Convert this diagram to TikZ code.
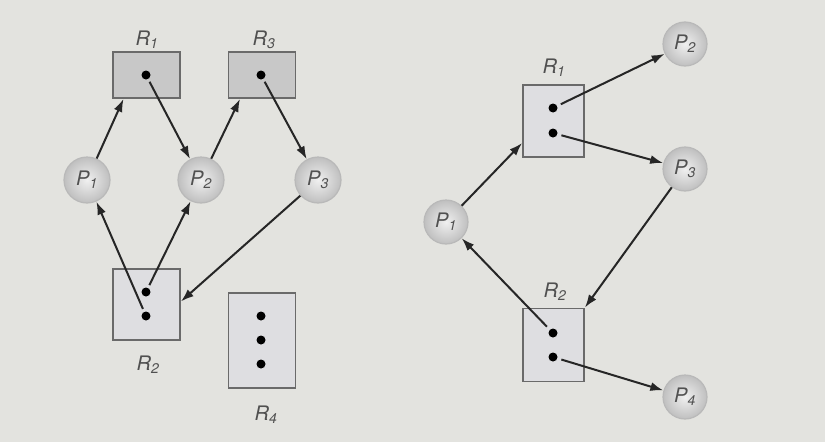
\documentclass[tikz,border=0pt]{standalone}
\usepackage{fontspec}
\setmainfont{TeX Gyre Heros}
\usetikzlibrary{arrows.meta}
\definecolor{bg}{HTML}{E3E3DF}
\definecolor{boxdark}{HTML}{C8C8C8}
\definecolor{boxlight}{HTML}{DEDEE1}
\definecolor{edge}{HTML}{6A6A6A}
\definecolor{txt}{HTML}{505050}
\tikzset{
  proc/.style={circle, minimum size=46pt, inner sep=0pt, draw=gray!55, line width=1.2pt,
    inner color=gray!12, outer color=gray!50, font=\fontsize{20}{24}\selectfont\itshape, text=txt},
  resdark/.style={rectangle, draw=edge, line width=1.8pt, fill=boxdark, inner sep=0pt},
  reslight/.style={rectangle, draw=edge, line width=1.8pt, fill=boxlight, inner sep=0pt},
  dotnode/.style={circle, fill=black, minimum size=9pt, inner sep=0pt},
  lbl/.style={font=\fontsize{20}{24}\selectfont\itshape, text=txt},
  arr/.style={-{Latex[length=13pt,width=9pt]}, line width=2pt, black!85},
}
\begin{document}
\begin{tikzpicture}[x=1pt,y=-1pt]
\fill[bg] (0,0) rectangle (825,442);
\useasboundingbox (0,0) rectangle (825,442);
% ---------- left graph ----------
\node[resdark, minimum width=67pt, minimum height=46pt] (LR1) at (146.5,75) {};
\node[resdark, minimum width=67pt, minimum height=46pt] (LR3) at (262,75) {};
\node[reslight, minimum width=67pt, minimum height=71pt] (LR2) at (146.5,304.5) {};
\node[reslight, minimum width=67pt, minimum height=95pt] (LR4) at (262,340.5) {};
\node[lbl] (LR1l) at (147,40) {R$_{\mathit 1}$};
\node[lbl] (LR3l) at (264,40) {R$_{\mathit 3}$};
\node[lbl] (LR2l) at (148,365) {R$_{\mathit 2}$};
\node[lbl] (LR4l) at (266,415) {R$_{\mathit 4}$};
\node[dotnode] (LR1d) at (146,75) {};
\node[dotnode] (LR3d) at (261,75) {};
\node[dotnode] (LR2a) at (146,292) {};
\node[dotnode] (LR2b) at (146,316) {};
\node[dotnode] (LR4a) at (261,316) {};
\node[dotnode] (LR4b) at (261,340) {};
\node[dotnode] (LR4c) at (261,364) {};
\node[proc] (LP1) at (87,180) {P$_{\mathit 1}$};
\node[proc] (LP2) at (201,180) {P$_{\mathit 2}$};
\node[proc] (LP3) at (318,180) {P$_{\mathit 3}$};
\draw[arr] (LP1) -- ([xshift=-23pt]LR1.south);
\draw[arr, shorten <=3pt] (LR1d) -- (LP2);
\draw[arr] (LP2) -- ([xshift=-22pt]LR3.south);
\draw[arr, shorten <=3pt] (LR3d) -- (LP3);
\draw[arr, shorten <=3pt] (LR2b) -- (LP1);
\draw[arr, shorten <=3pt] (LR2a) -- (LP2);
\draw[arr] (LP3) -- ([yshift=3pt]LR2.east);
% ---------- right graph ----------
\node[reslight, minimum width=61pt, minimum height=72pt] (RR1) at (553.5,121) {};
\node[reslight, minimum width=61pt, minimum height=73pt] (RR2) at (553.5,345) {};
\node[lbl] (RR1l) at (554,68) {R$_{\mathit 1}$};
\node[lbl] (RR2l) at (555,292) {R$_{\mathit 2}$};
\node[dotnode] (RR1a) at (553,108) {};
\node[dotnode] (RR1b) at (553,133) {};
\node[dotnode] (RR2a) at (553,333) {};
\node[dotnode] (RR2b) at (553,357) {};
\node[proc, minimum size=44pt] (RP1) at (446,222) {P$_{\mathit 1}$};
\node[proc, minimum size=44pt] (RP2) at (685,44) {P$_{\mathit 2}$};
\node[proc, minimum size=44pt] (RP3) at (685,169) {P$_{\mathit 3}$};
\node[proc, minimum size=44pt] (RP4) at (685,397) {P$_{\mathit 4}$};
\draw[arr] (RP1) -- ([yshift=-22pt]RR1.west);
\draw[arr, shorten <=4pt] (RR1a) -- (RP2);
\draw[arr, shorten <=4pt] (RR1b) -- (RP3);
\draw[arr] (RP3) -- (RR2.north east);
\draw[arr, shorten <=4pt] (RR2a) -- (RP1);
\draw[arr, shorten <=4pt] (RR2b) -- (RP4);
\end{tikzpicture}
\end{document}
